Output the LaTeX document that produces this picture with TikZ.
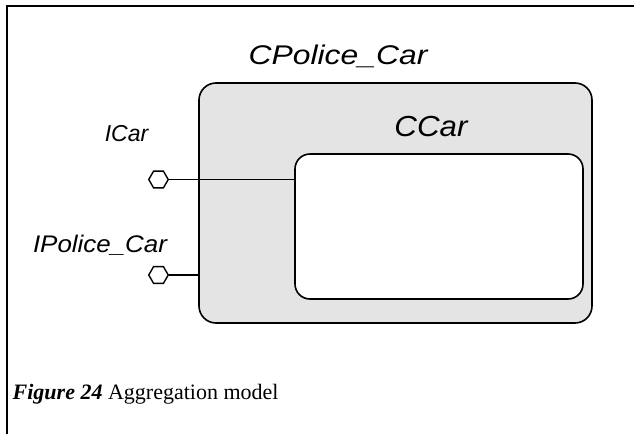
\documentclass[tikz,border=0pt]{standalone}
\usepackage{fontspec}
\setmainfont{Liberation Serif}
\newfontfamily\arialfont{Liberation Sans}
\usetikzlibrary{calc,positioning,shapes.geometric}

\definecolor{boxgray}{RGB}{228,228,228}
% #1 font size, #2 horizontal stretch, #3 text
\newcommand*{\lbltext}[3]{\scalebox{#2}[1]{\arialfont\itshape\fontsize{#1}{#1}\selectfont #3}}

\begin{document}
\begin{tikzpicture}[x=1pt, y=-1pt]
    \tikzstyle{component}=[draw, line width=1.6pt, rounded corners=17pt, inner sep=0pt];
    \tikzstyle{port}=[draw, fill=white, line width=1.4pt, regular polygon, regular polygon sides=6, minimum size=19.5pt, inner sep=0pt];
    \tikzstyle{wire}=[line width=1.5pt];

    \useasboundingbox (0,0) rectangle (634,434);

    % frame of the figure
    \draw[line width=2.2pt] (7,434) -- (7,6) -- (634,6);

    % components
    \node[component, fill=boxgray, minimum width=393pt, minimum height=240pt] (policecar) at (395.5,203) {};
    \node[component, fill=white, rounded corners=15pt, minimum width=288pt, minimum height=145pt] (car) at (439,226.5) {};

    \node[anchor=base, inner sep=0pt] (policecarlbl) at (338,64) {\lbltext{27}{1.18}{CPolice\_Car}};
    \node[anchor=base, inner sep=0pt] (carlbl) at (431,136) {\lbltext{29}{1.08}{CCar}};

    % interfaces
    \node[port] (icar) at (158.5,179.5) {};
    \node[port] (ipolicecar) at (158.5,275) {};
    \node[anchor=base, inner sep=0pt] (icarlbl) at (126.5,141) {\lbltext{23}{1.0}{ICar}};
    \node[anchor=base, inner sep=0pt] (ipolicecarlbl) at (100,252) {\lbltext{24}{1.08}{IPolice\_Car}};

    \draw[wire] (icar.east) -- (icar -| car.west);
    \draw[wire] (ipolicecar.east) -- (ipolicecar -| policecar.west);

    % caption
    \node[anchor=base west, inner sep=0pt, font=\fontsize{22}{24}\selectfont] (caption) at (12.5,399) {\textbf{\textit{Figure 24}} Aggregation model};
  \end{tikzpicture}
\end{document}
